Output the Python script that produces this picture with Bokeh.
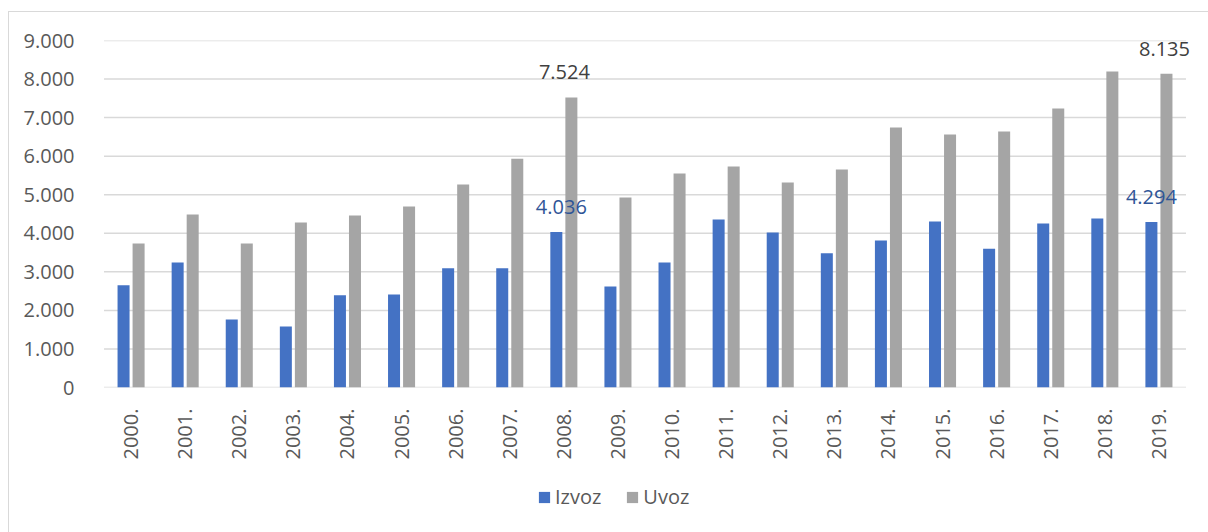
from bokeh.plotting import figure
from bokeh.layouts import column
from bokeh.models import (ColumnDataSource, FixedTicker, Legend, LegendItem,
                          FactorRange, InlineStyleSheet)
from bokeh.transform import dodge
from bokeh.core.properties import value
from bokeh.embed import file_html
from bokeh.resources import INLINE

years = ["2000.", "2001.", "2002.", "2003.", "2004.", "2005.", "2006.", "2007.",
         "2008.", "2009.", "2010.", "2011.", "2012.", "2013.", "2014.", "2015.",
         "2016.", "2017.", "2018.", "2019."]
izvoz = [2650, 3245, 1765, 1580, 2390, 2415, 3090, 3095, 4036, 2620,
         3245, 4355, 4020, 3480, 3810, 4305, 3600, 4255, 4385, 4294]
uvoz = [3735, 4485, 3735, 4280, 4460, 4695, 5265, 5935, 7524, 4925,
        5550, 5730, 5315, 5655, 6745, 6560, 6640, 7235, 8195, 8135]
series_names = ["Izvoz", "Uvoz"]

y_ticks = [0, 1000, 2000, 3000, 4000, 5000, 6000, 7000, 8000, 9000]
y_tick_labels = ["0", "1.000", "2.000", "3.000", "4.000", "5.000",
                 "6.000", "7.000", "8.000", "9.000"]

# data labels
lbl_uvoz_years = ["2008.", "2019."]
lbl_uvoz_vals = [7524, 8135]
lbl_izvoz_years = ["2008.", "2019."]
lbl_izvoz_vals = [4036, 4294]

FONT = "Open Sans"
BLUE = "#4472C4"
GREY = "#A5A5A5"
GRID = "#D9D9D9"

src = ColumnDataSource(dict(year=years, izvoz=izvoz, uvoz=uvoz))

xr = FactorRange(*years, range_padding=0.25, range_padding_units="absolute")
p = figure(width=1208, height=462, x_range=xr, y_range=(0, 9000),
           output_backend="svg", toolbar_location=None,
           min_border_left=90, min_border_right=9, min_border_top=40,
           min_border_bottom=75)
p.outline_line_color = None
p.background_fill_color = "white"
p.border_fill_color = "white"

# horizontal gridlines spanning only the category area
gsrc = ColumnDataSource(dict(a=[years[0]] * len(y_ticks), b=[years[-1]] * len(y_ticks),
                             y=y_ticks))
p.segment(x0=dodge("a", -0.5, range=xr), x1=dodge("b", 0.5, range=xr),
          y0="y", y1="y", source=gsrc, line_color=GRID, line_width=1.5)

bw = 0.222
off = 0.139
p.vbar(x=dodge("year", -off, range=xr), top="izvoz", width=bw,
       source=src, fill_color=BLUE, line_color=None)
p.vbar(x=dodge("year", off, range=xr), top="uvoz", width=bw,
       source=src, fill_color=GREY, line_color=None)

# axes
p.yaxis.ticker = FixedTicker(ticks=y_ticks)
p.yaxis.major_label_overrides = {t: l for t, l in zip(y_ticks, y_tick_labels)}
p.yaxis.axis_line_color = None
p.yaxis.major_tick_line_color = None
p.yaxis.minor_tick_line_color = None
p.yaxis.major_label_text_font = FONT
p.yaxis.major_label_text_font_size = "20px"
p.yaxis.major_label_text_color = "#595959"
p.yaxis.major_label_standoff = 10

p.xaxis.axis_line_color = None
p.xaxis.major_tick_line_color = None
p.xaxis.minor_tick_line_color = None
p.xaxis.major_label_orientation = 3.14159265 / 2
p.xaxis.major_label_text_font = FONT
p.xaxis.major_label_text_font_size = "20px"
p.xaxis.major_label_text_color = "#595959"
p.xaxis.major_label_standoff = 15

p.xgrid.grid_line_color = None
p.ygrid.grid_line_color = None

# data labels (Excel places them manually; small screen nudges per label)
uv_src = ColumnDataSource(dict(x=lbl_uvoz_years, y=lbl_uvoz_vals,
                               t=[f"{v/1000:.3f}" for v in lbl_uvoz_vals],
                               dx=[-7, -2]))
p.text(x=dodge("x", off, range=xr), y="y", source=uv_src,
       text="t", text_font=value(FONT), text_font_size="20px",
       text_color="#404040", text_align="center", text_baseline="middle",
       y_offset=-25, x_offset="dx")
iz_src = ColumnDataSource(dict(x=lbl_izvoz_years, y=lbl_izvoz_vals,
                               t=[f"{v/1000:.3f}" for v in lbl_izvoz_vals],
                               dx=[5, 0]))
p.text(x=dodge("x", -off, range=xr), y="y", source=iz_src,
       text="t", text_font=value(FONT), text_font_size="20px",
       text_color="#2F5597", text_align="center", text_baseline="middle",
       y_offset=-25, x_offset="dx")

# legend strip (separate small figure so the legend is not clipped);
# its bars use the same data but lie entirely below its y range, so only
# the legend swatches show
lg = figure(width=1208, height=70, x_range=FactorRange(*years),
            y_range=(100000, 200000),
            output_backend="svg", toolbar_location=None,
            x_axis_location=None, y_axis_location=None,
            min_border_left=0, min_border_right=0, min_border_top=0,
            min_border_bottom=0)
lg.outline_line_color = None
lg.xgrid.grid_line_color = None
lg.ygrid.grid_line_color = None
lg.border_fill_color = "white"
lg.background_fill_color = "white"
lr1 = lg.vbar(x="year", top="izvoz", width=0.2, source=src,
              fill_color=BLUE, line_color=None)
lr2 = lg.vbar(x="year", top="uvoz", width=0.2, source=src,
              fill_color=GREY, line_color=None)
legend = Legend(items=[LegendItem(label=series_names[0], renderers=[lr1]),
                       LegendItem(label=series_names[1], renderers=[lr2])],
                orientation="horizontal", location=(447, 22),
                label_text_font=FONT, label_text_font_size="20px",
                label_text_color="#595959", glyph_width=14, glyph_height=14,
                padding=0, margin=0, spacing=24, label_standoff=4,
                background_fill_alpha=0, border_line_color=None)
lg.add_layout(legend, "center")

layout = column(p, lg, spacing=0)
layout.stylesheets = [InlineStyleSheet(css=(
    ":host::after { content: ''; position: absolute; left: 8px; top: 11px; "
    "width: 1200px; height: 521px; border-left: 1.5px solid #D9D9D9; "
    "border-top: 1.5px solid #D9D9D9; pointer-events: none; box-sizing: border-box; }"
))]

open("out.html", "w").write(file_html(layout, INLINE))
